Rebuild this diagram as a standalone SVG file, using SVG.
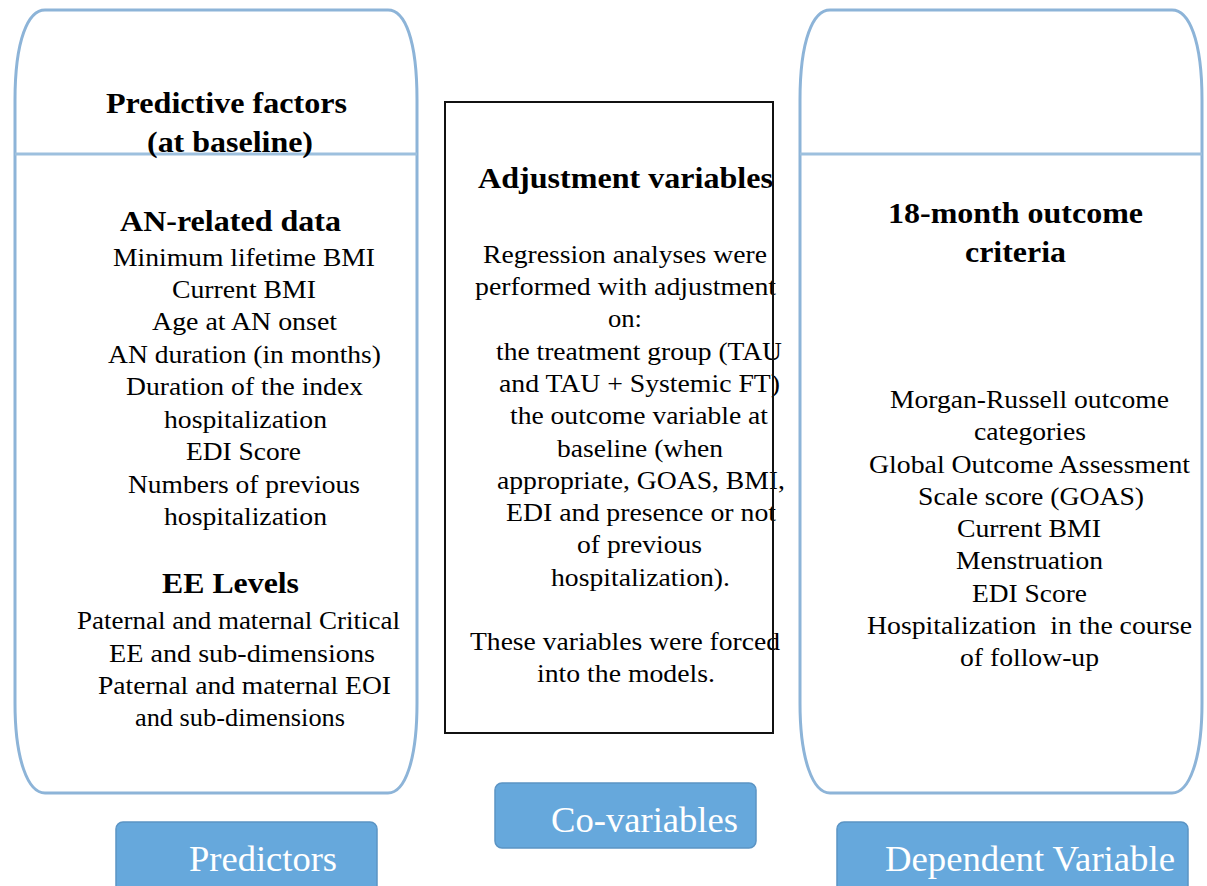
<svg xmlns="http://www.w3.org/2000/svg" width="1207" height="886" viewBox="0 0 1207 886">
<style>
.panel{fill:#fff;stroke:#8db4d8;stroke-width:3}
.divider{stroke:#9dc0de;stroke-width:3}
.frame{fill:none;stroke:#111;stroke-width:2}
.btn{fill:#66a8dc;stroke:#5b94c4;stroke-width:1.5}
.ttl{font-size:29px;font-weight:bold;fill:#000}
.txt{font-size:25px;fill:#000}
.lbl{font-size:35px;fill:#fff}
text{font-family:"Liberation Serif","DejaVu Serif",serif}
</style>
<rect width="1207" height="886" fill="#fff"/>
<g id="predictors-panel">
<path class="panel" d="M45,10 H388 C405,10 417,40 417,100 V703 C417,760 405,793 388,793 H45 C28,793 15,760 15,703 V100 C15,40 28,10 45,10 Z"/>
<line class="divider" x1="15" y1="154" x2="417" y2="154"/>
<text class="ttl" style="font-family:'Liberation Serif','DejaVu Serif',serif" x="106" y="113" textLength="241" lengthAdjust="spacingAndGlyphs">Predictive factors</text>
<text class="ttl" style="font-family:'Liberation Serif','DejaVu Serif',serif" x="147" y="152" textLength="166" lengthAdjust="spacingAndGlyphs">(at baseline)</text>
<text class="ttl" style="font-family:'Liberation Serif','DejaVu Serif',serif" x="120" y="231" textLength="221" lengthAdjust="spacingAndGlyphs">AN-related data</text>
<text class="txt" style="font-family:'Liberation Serif','DejaVu Serif',serif" x="113" y="266" textLength="262" lengthAdjust="spacingAndGlyphs">Minimum lifetime BMI</text>
<text class="txt" style="font-family:'Liberation Serif','DejaVu Serif',serif" x="172" y="298" textLength="144" lengthAdjust="spacingAndGlyphs">Current BMI</text>
<text class="txt" style="font-family:'Liberation Serif','DejaVu Serif',serif" x="152" y="330" textLength="185" lengthAdjust="spacingAndGlyphs">Age at AN onset</text>
<text class="txt" style="font-family:'Liberation Serif','DejaVu Serif',serif" x="108" y="363" textLength="273" lengthAdjust="spacingAndGlyphs">AN duration (in months)</text>
<text class="txt" style="font-family:'Liberation Serif','DejaVu Serif',serif" x="126" y="395" textLength="237" lengthAdjust="spacingAndGlyphs">Duration of the index</text>
<text class="txt" style="font-family:'Liberation Serif','DejaVu Serif',serif" x="164" y="428" textLength="163" lengthAdjust="spacingAndGlyphs">hospitalization</text>
<text class="txt" style="font-family:'Liberation Serif','DejaVu Serif',serif" x="186" y="460" textLength="115" lengthAdjust="spacingAndGlyphs">EDI Score</text>
<text class="txt" style="font-family:'Liberation Serif','DejaVu Serif',serif" x="128" y="493" textLength="232" lengthAdjust="spacingAndGlyphs">Numbers of previous</text>
<text class="txt" style="font-family:'Liberation Serif','DejaVu Serif',serif" x="164" y="525" textLength="163" lengthAdjust="spacingAndGlyphs">hospitalization</text>
<text class="ttl" style="font-family:'Liberation Serif','DejaVu Serif',serif" x="162" y="593" textLength="137" lengthAdjust="spacingAndGlyphs">EE Levels</text>
<text class="txt" style="font-family:'Liberation Serif','DejaVu Serif',serif" x="77" y="629" textLength="323" lengthAdjust="spacingAndGlyphs">Paternal and maternal Critical</text>
<text class="txt" style="font-family:'Liberation Serif','DejaVu Serif',serif" x="109" y="662" textLength="266" lengthAdjust="spacingAndGlyphs">EE and sub-dimensions</text>
<text class="txt" style="font-family:'Liberation Serif','DejaVu Serif',serif" x="98" y="694" textLength="293" lengthAdjust="spacingAndGlyphs">Paternal and maternal EOI</text>
<text class="txt" style="font-family:'Liberation Serif','DejaVu Serif',serif" x="135" y="726" textLength="210" lengthAdjust="spacingAndGlyphs">and sub-dimensions</text>
</g>
<g id="adjustment-panel">
<rect x="445" y="102" width="328" height="631" fill="#fff"/>
<text class="ttl" style="font-family:'Liberation Serif','DejaVu Serif',serif" x="478" y="188" textLength="295" lengthAdjust="spacingAndGlyphs">Adjustment variables</text>
<text class="txt" style="font-family:'Liberation Serif','DejaVu Serif',serif" x="483" y="263" textLength="284" lengthAdjust="spacingAndGlyphs">Regression analyses were</text>
<text class="txt" style="font-family:'Liberation Serif','DejaVu Serif',serif" x="475" y="295" textLength="301" lengthAdjust="spacingAndGlyphs">performed with adjustment</text>
<text class="txt" style="font-family:'Liberation Serif','DejaVu Serif',serif" x="608" y="327" textLength="34" lengthAdjust="spacingAndGlyphs">on:</text>
<text class="txt" style="font-family:'Liberation Serif','DejaVu Serif',serif" x="496" y="360" textLength="286" lengthAdjust="spacingAndGlyphs">the treatment group (TAU</text>
<text class="txt" style="font-family:'Liberation Serif','DejaVu Serif',serif" x="499" y="392" textLength="281" lengthAdjust="spacingAndGlyphs">and TAU + Systemic FT)</text>
<text class="txt" style="font-family:'Liberation Serif','DejaVu Serif',serif" x="510" y="424" textLength="258" lengthAdjust="spacingAndGlyphs">the outcome variable at</text>
<text class="txt" style="font-family:'Liberation Serif','DejaVu Serif',serif" x="557" y="457" textLength="166" lengthAdjust="spacingAndGlyphs">baseline (when</text>
<text class="txt" style="font-family:'Liberation Serif','DejaVu Serif',serif" x="497" y="489" textLength="288" lengthAdjust="spacingAndGlyphs">appropriate, GOAS, BMI,</text>
<text class="txt" style="font-family:'Liberation Serif','DejaVu Serif',serif" x="506" y="521" textLength="270" lengthAdjust="spacingAndGlyphs">EDI and presence or not</text>
<text class="txt" style="font-family:'Liberation Serif','DejaVu Serif',serif" x="577" y="553" textLength="125" lengthAdjust="spacingAndGlyphs">of previous</text>
<text class="txt" style="font-family:'Liberation Serif','DejaVu Serif',serif" x="551" y="586" textLength="179" lengthAdjust="spacingAndGlyphs">hospitalization).</text>
<text class="txt" style="font-family:'Liberation Serif','DejaVu Serif',serif" x="470" y="650" textLength="310" lengthAdjust="spacingAndGlyphs">These variables were forced</text>
<text class="txt" style="font-family:'Liberation Serif','DejaVu Serif',serif" x="537" y="682" textLength="178" lengthAdjust="spacingAndGlyphs">into the models.</text>
<rect class="frame" x="445" y="102" width="328" height="631"/>
</g>
<g id="outcome-panel">
<path class="panel" d="M830,10 H1172 C1189,10 1202,40 1202,100 V703 C1202,760 1189,793 1172,793 H830 C813,793 800,760 800,703 V100 C800,40 813,10 830,10 Z"/>
<line class="divider" x1="800" y1="154" x2="1202" y2="154"/>
<text class="ttl" style="font-family:'Liberation Serif','DejaVu Serif',serif" x="888" y="223" textLength="255" lengthAdjust="spacingAndGlyphs">18-month outcome</text>
<text class="ttl" style="font-family:'Liberation Serif','DejaVu Serif',serif" x="965" y="262" textLength="101" lengthAdjust="spacingAndGlyphs">criteria</text>
<text class="txt" style="font-family:'Liberation Serif','DejaVu Serif',serif" x="890" y="408" textLength="279" lengthAdjust="spacingAndGlyphs">Morgan-Russell outcome</text>
<text class="txt" style="font-family:'Liberation Serif','DejaVu Serif',serif" x="974" y="440" textLength="112" lengthAdjust="spacingAndGlyphs">categories</text>
<text class="txt" style="font-family:'Liberation Serif','DejaVu Serif',serif" x="869" y="473" textLength="321" lengthAdjust="spacingAndGlyphs">Global Outcome Assessment</text>
<text class="txt" style="font-family:'Liberation Serif','DejaVu Serif',serif" x="918" y="505" textLength="226" lengthAdjust="spacingAndGlyphs">Scale score (GOAS)</text>
<text class="txt" style="font-family:'Liberation Serif','DejaVu Serif',serif" x="957" y="537" textLength="144" lengthAdjust="spacingAndGlyphs">Current BMI</text>
<text class="txt" style="font-family:'Liberation Serif','DejaVu Serif',serif" x="956" y="569" textLength="147" lengthAdjust="spacingAndGlyphs">Menstruation</text>
<text class="txt" style="font-family:'Liberation Serif','DejaVu Serif',serif" x="972" y="602" textLength="115" lengthAdjust="spacingAndGlyphs">EDI Score</text>
<text class="txt" style="font-family:'Liberation Serif','DejaVu Serif',serif" x="867" y="634" textLength="325" lengthAdjust="spacingAndGlyphs" xml:space="preserve">Hospitalization  in the course</text>
<text class="txt" style="font-family:'Liberation Serif','DejaVu Serif',serif" x="960" y="666" textLength="139" lengthAdjust="spacingAndGlyphs">of follow-up</text>
</g>
<g id="btn-predictors">
<rect class="btn" x="116" y="822" width="261" height="80" rx="7"/>
<text class="lbl" x="189" y="871" textLength="148" lengthAdjust="spacingAndGlyphs">Predictors</text>
</g>
<g id="btn-covariables">
<rect class="btn" x="495" y="783" width="261" height="65" rx="7"/>
<text class="lbl" x="551" y="832" textLength="187" lengthAdjust="spacingAndGlyphs">Co-variables</text>
</g>
<g id="btn-dependent">
<rect class="btn" x="837" y="822" width="351" height="80" rx="7"/>
<text class="lbl" x="885" y="871" textLength="290" lengthAdjust="spacingAndGlyphs">Dependent Variable</text>
</g>
<g id="connectors"></g>
</svg>
